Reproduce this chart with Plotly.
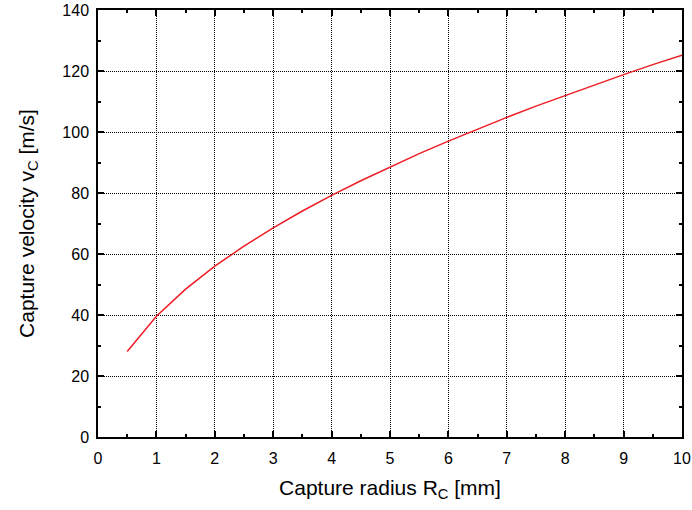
import plotly.graph_objects as go

radius_mm = [0.5, 1.0, 1.5, 2.0, 2.5, 3.0, 3.5, 4.0, 4.5, 5.0,
             5.5, 6.0, 6.5, 7.0, 7.5, 8.0, 8.5, 9.0, 9.5, 10.0]
velocity_ms = [28.0, 39.6, 48.5, 56.0, 62.6, 68.6, 74.1, 79.2, 84.0, 88.5,
               92.9, 97.0, 101.0, 104.8, 108.5, 112.0, 115.5, 118.8, 122.1, 125.2]

x_ticks = list(range(0, 11))
y_ticks = list(range(0, 141, 20))

FONT = "Liberation Sans, Arial, sans-serif"

fig = go.Figure()
fig.add_trace(go.Scatter(x=radius_mm, y=velocity_ms, mode="lines",
                         line=dict(color="#ee1c25", width=1.5),
                         showlegend=False, hoverinfo="skip"))

axis_common = dict(
    showline=True, linecolor="black", linewidth=1.5, mirror="ticks",
    ticks="inside", ticklen=6, tickwidth=1.5, tickcolor="black",
    showgrid=True, gridcolor="black", gridwidth=1, griddash="1px,1px",
    zeroline=False, automargin=False,
    tickfont=dict(family=FONT, size=16, color="black"),
    minor=dict(ticks="inside", ticklen=3, tickwidth=1.5, tickcolor="black", showgrid=False),
)

fig.update_xaxes(range=[0, 10], tickvals=x_ticks, ticktext=[str(v) for v in x_ticks],
                 ticklabelstandoff=6,
                 title=dict(text="Capture radius R<sub>C</sub> [mm]",
                            font=dict(family=FONT, size=21, color="black"),
                            standoff=14),
                 minor_dtick=0.5, **axis_common)
fig.update_yaxes(range=[0, 140], tickvals=y_ticks, ticktext=[str(v) for v in y_ticks],
                 ticklabelstandoff=4,
                 title=dict(text="Capture velocity v<sub>C</sub> [m/s]",
                            font=dict(family=FONT, size=21, color="black"),
                            standoff=22),
                 minor_dtick=10, **axis_common)

fig.update_layout(width=692, height=510,
                  margin=dict(l=98, r=10, t=10, b=73),
                  plot_bgcolor="white", paper_bgcolor="white")

fig.write_html("out.html")
